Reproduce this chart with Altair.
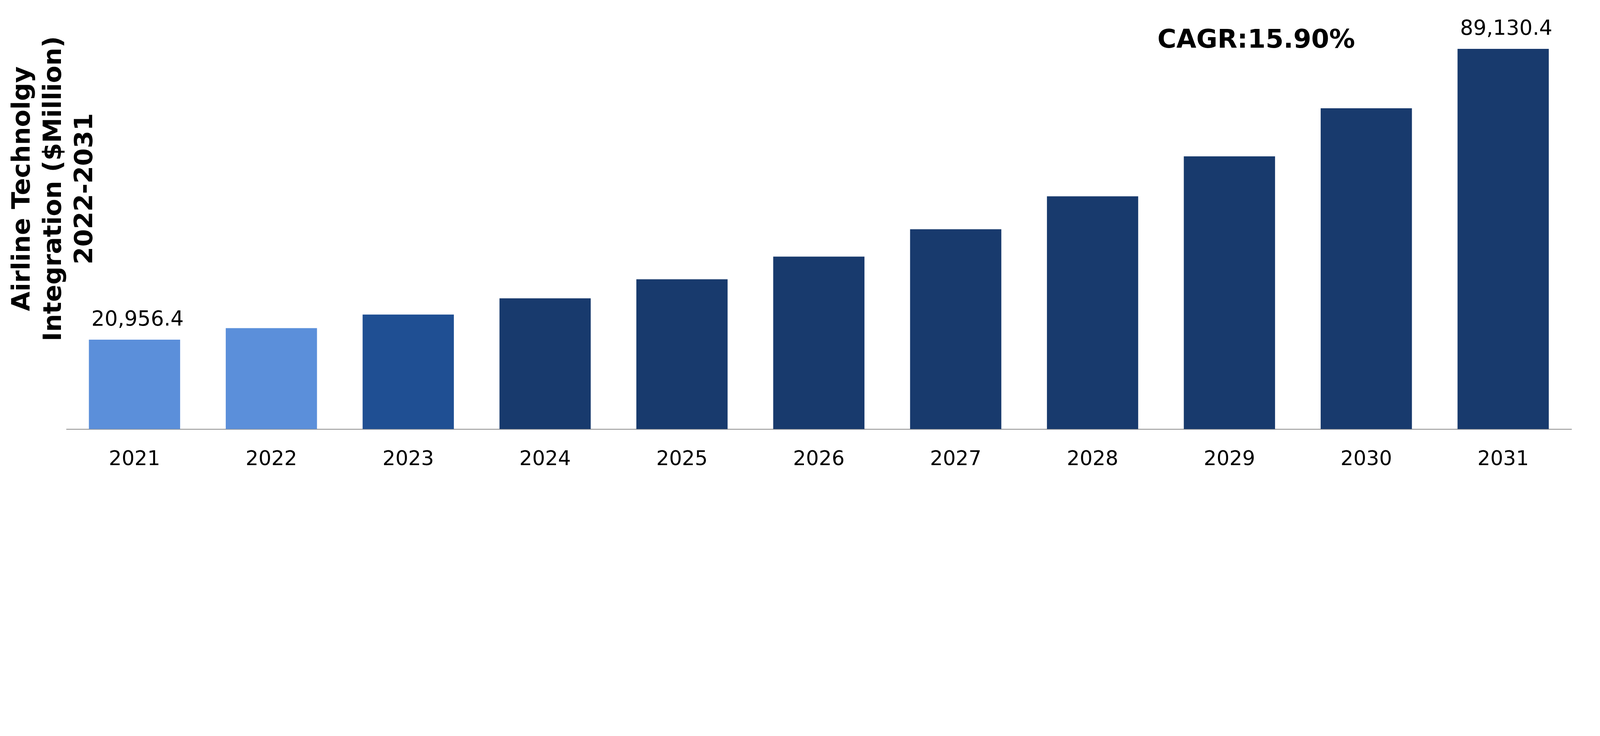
import altair as alt
import pandas as pd

years = ["2021", "2022", "2023", "2024", "2025", "2026", "2027", "2028", "2029", "2030", "2031"]
values = [20956.4, 23660, 26860, 30660, 35110, 40440, 46850, 54560, 63920, 75200, 89130.4]
colors = ["#5B8FDA", "#5B8FDA", "#1F4F93", "#183A6D", "#183A6D", "#183A6D",
          "#183A6D", "#183A6D", "#183A6D", "#183A6D", "#183A6D"]
labeled_years = ["2021", "2031"]
cagr_text = "CAGR:15.90%"
cagr_year = "2029"
y_title = ["Airline Technolgy", "Integration ($Million)", "2022-2031"]

df = pd.DataFrame({"year": years, "value": values, "color": colors})

FONT = "DejaVu Sans"

# the page shows the chart scaled to fill its width; design sizes in page pixels
TOTAL_W = 4119
S = 6304 / TOTAL_W


def px(v):
    return v / S


x_enc = alt.X(
    "year:N",
    sort=years,
    scale=alt.Scale(paddingInner=1 / 3, paddingOuter=1 / 6),
    axis=alt.Axis(
        title=None,
        labelAngle=0,
        labelFont=FONT,
        labelFontSize=px(80),
        labelColor="#000000",
        labelBaseline="alphabetic",
        labelPadding=px(141),
        labelLimit=0,
        ticks=False,
        tickSize=0,
        domainColor="#898989",
        domainWidth=px(3),
        grid=False,
    ),
)

plot_left = px(249)
plot_top = px(39)
plot_w = px(5955)
plot_h = px(1636)

y_enc = alt.Y(
    "value:Q",
    scale=alt.Scale(domain=[0, 97000], nice=False, zero=True),
    axis=alt.Axis(
        title=y_title,
        titleFont=FONT,
        titleFontSize=px(100),
        titleFontWeight="bold",
        titleColor="#000000",
        titleLineHeight=px(123),
        titleAngle=270,
        titleAlign="center",
        titleBaseline="alphabetic",
        titleX=px(105) - plot_left,
        titleY=px(724) - plot_top,
        labels=False,
        ticks=False,
        domain=False,
        grid=False,
    ),
)

base = alt.Chart(df)

bars = base.mark_bar().encode(
    x=x_enc,
    y=y_enc,
    color=alt.Color("color:N", scale=None, legend=None),
)

labels = base.transform_filter(
    alt.FieldOneOfPredicate(field="year", oneOf=labeled_years)
).mark_text(
    font=FONT, fontSize=px(82), baseline="alphabetic", align="center",
    dy=-px(55), dx=px(12), color="#000000"
).encode(
    x=alt.X("year:N", sort=years),
    y=alt.Y("value:Q"),
    text=alt.Text("value:Q", format=",.1f"),
)

cagr = alt.Chart(pd.DataFrame({"year": [cagr_year], "value": [max(values)], "t": [cagr_text]})).mark_text(
    font=FONT, fontSize=px(102), fontWeight="bold", baseline="alphabetic", align="center",
    dx=px(106), dy=-px(4), color="#000000"
).encode(
    x=alt.X("year:N", sort=years),
    y=alt.Y("value:Q"),
    text="t:N",
)

total_h = px(1867)
chart = alt.layer(bars, labels, cagr).properties(
    width=plot_w,
    height=plot_h,
    autosize=alt.AutoSizeParams(type="none"),
    padding={
        "left": plot_left,
        "top": plot_top,
        "right": TOTAL_W - plot_left - plot_w,
        "bottom": total_h - plot_top - plot_h,
    },
    background="#ffffff",
).configure_view(stroke=None)

chart.save("out.html", embed_options={"renderer": "svg", "actions": False})
